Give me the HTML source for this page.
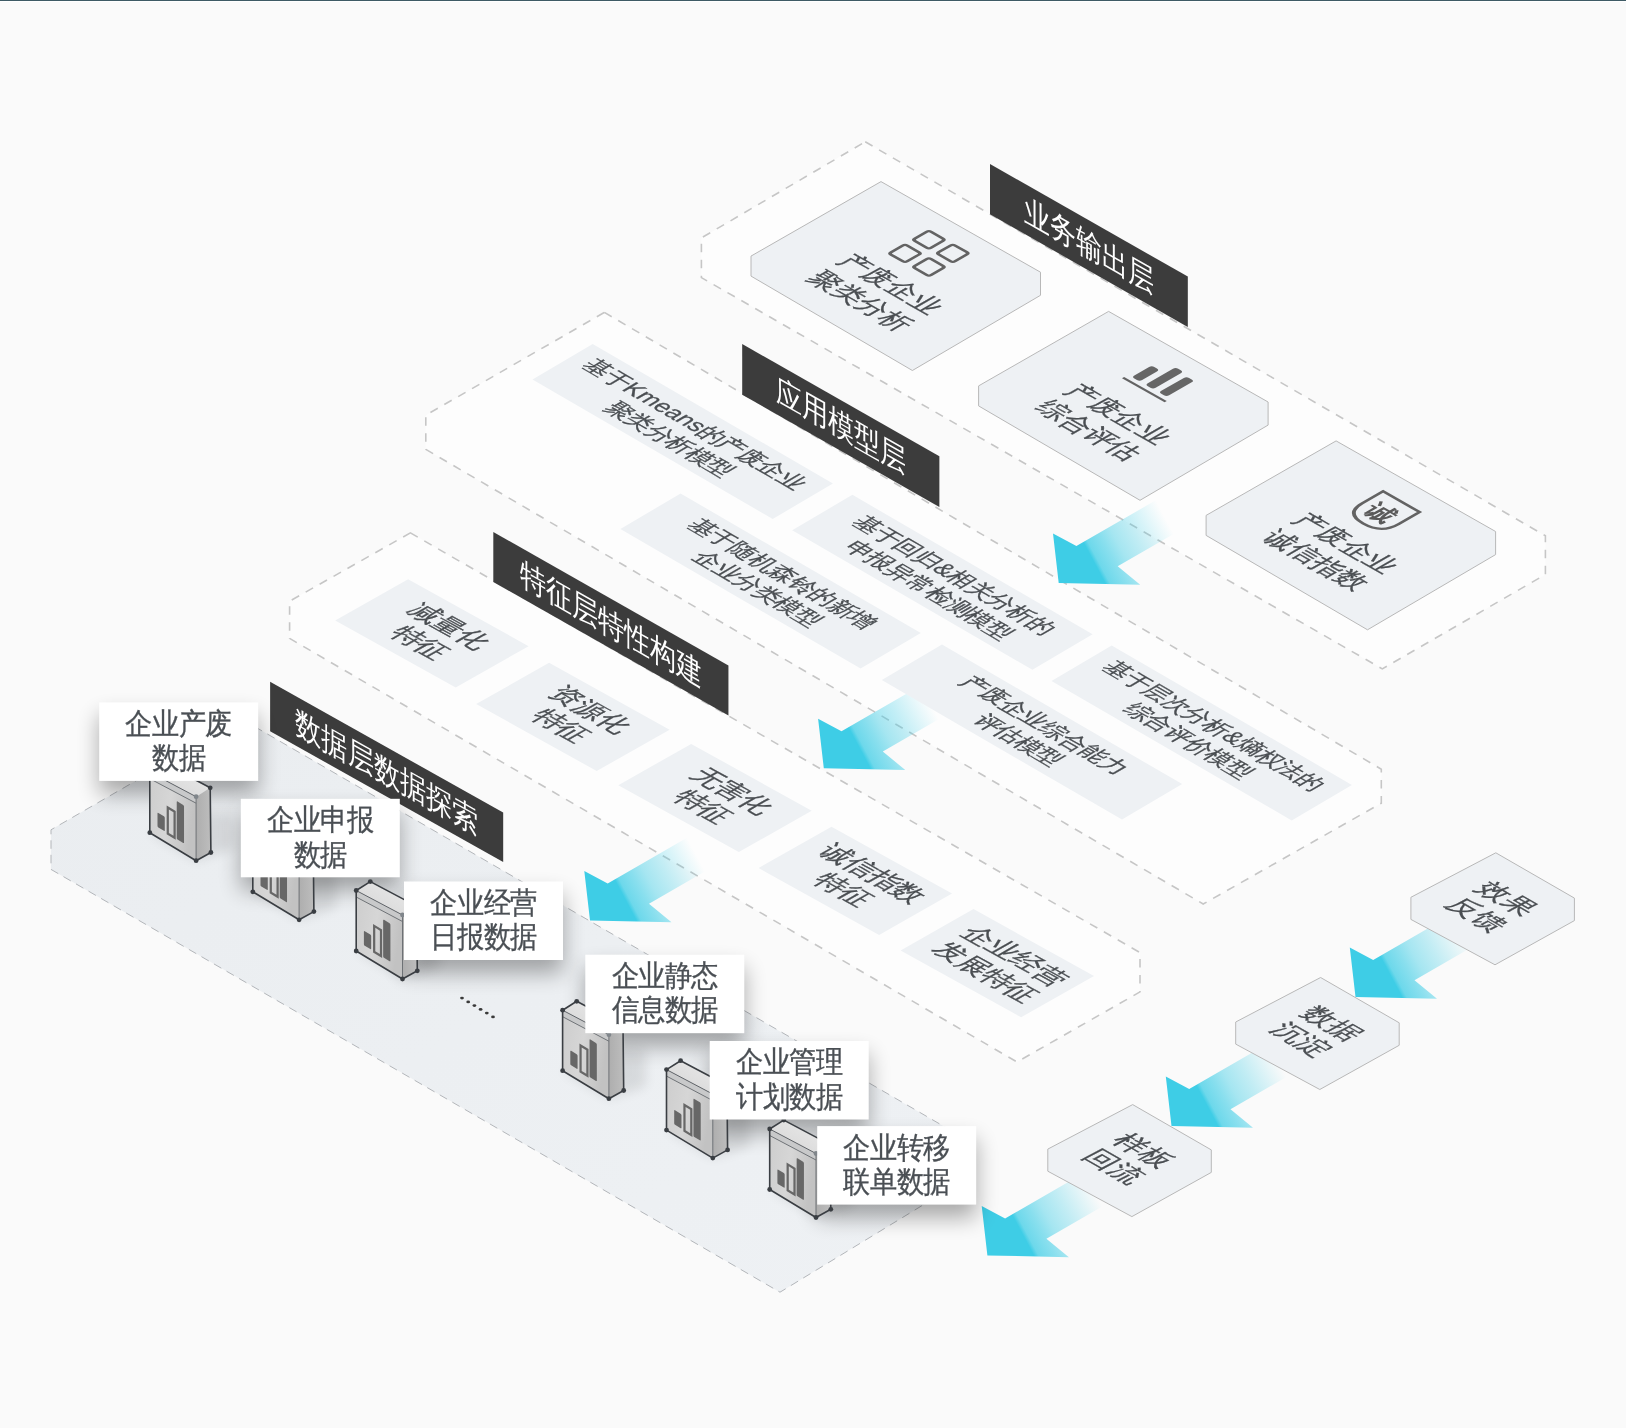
<!DOCTYPE html>
<html><head><meta charset="utf-8"><style>
html,body{margin:0;padding:0;background:#fafafa;width:1626px;height:1428px;overflow:hidden}
svg{display:block;will-change:transform;font-family:"Liberation Sans", sans-serif}
</style></head><body>
<svg width="1626" height="1428" viewBox="0 0 1626 1428">
<defs><linearGradient id="ag0" gradientUnits="userSpaceOnUse" x1="1094.8" y1="563.7" x2="1168.7" y2="524.2"><stop offset="0" stop-color="#3ecde6"/><stop offset="0.05" stop-color="#3ecde6" stop-opacity="0.75"/><stop offset="0.22" stop-color="#3ecde6" stop-opacity="0.6"/><stop offset="0.36" stop-color="#3ecde6" stop-opacity="0.45"/><stop offset="0.59" stop-color="#3ecde6" stop-opacity="0.3"/><stop offset="0.86" stop-color="#3ecde6" stop-opacity="0.1"/><stop offset="1" stop-color="#3ecde6" stop-opacity="0"/></linearGradient><linearGradient id="ag1" gradientUnits="userSpaceOnUse" x1="859.9" y1="748.9" x2="933.8" y2="709.5"><stop offset="0" stop-color="#3ecde6"/><stop offset="0.05" stop-color="#3ecde6" stop-opacity="0.75"/><stop offset="0.22" stop-color="#3ecde6" stop-opacity="0.6"/><stop offset="0.36" stop-color="#3ecde6" stop-opacity="0.45"/><stop offset="0.59" stop-color="#3ecde6" stop-opacity="0.3"/><stop offset="0.86" stop-color="#3ecde6" stop-opacity="0.1"/><stop offset="1" stop-color="#3ecde6" stop-opacity="0"/></linearGradient><linearGradient id="ag2" gradientUnits="userSpaceOnUse" x1="626.1" y1="901.2" x2="700.0" y2="861.8"><stop offset="0" stop-color="#3ecde6"/><stop offset="0.05" stop-color="#3ecde6" stop-opacity="0.75"/><stop offset="0.22" stop-color="#3ecde6" stop-opacity="0.6"/><stop offset="0.36" stop-color="#3ecde6" stop-opacity="0.45"/><stop offset="0.59" stop-color="#3ecde6" stop-opacity="0.3"/><stop offset="0.86" stop-color="#3ecde6" stop-opacity="0.1"/><stop offset="1" stop-color="#3ecde6" stop-opacity="0"/></linearGradient><linearGradient id="ag3" gradientUnits="userSpaceOnUse" x1="1391.6" y1="977.6" x2="1465.5" y2="938.1"><stop offset="0" stop-color="#3ecde6"/><stop offset="0.05" stop-color="#3ecde6" stop-opacity="0.75"/><stop offset="0.22" stop-color="#3ecde6" stop-opacity="0.6"/><stop offset="0.36" stop-color="#3ecde6" stop-opacity="0.45"/><stop offset="0.59" stop-color="#3ecde6" stop-opacity="0.3"/><stop offset="0.86" stop-color="#3ecde6" stop-opacity="0.1"/><stop offset="1" stop-color="#3ecde6" stop-opacity="0"/></linearGradient><linearGradient id="ag4" gradientUnits="userSpaceOnUse" x1="1207.6" y1="1106.6" x2="1281.5" y2="1067.2"><stop offset="0" stop-color="#3ecde6"/><stop offset="0.05" stop-color="#3ecde6" stop-opacity="0.75"/><stop offset="0.22" stop-color="#3ecde6" stop-opacity="0.6"/><stop offset="0.36" stop-color="#3ecde6" stop-opacity="0.45"/><stop offset="0.59" stop-color="#3ecde6" stop-opacity="0.3"/><stop offset="0.86" stop-color="#3ecde6" stop-opacity="0.1"/><stop offset="1" stop-color="#3ecde6" stop-opacity="0"/></linearGradient><linearGradient id="ag5" gradientUnits="userSpaceOnUse" x1="1023.5" y1="1236.1" x2="1097.4" y2="1196.7"><stop offset="0" stop-color="#3ecde6"/><stop offset="0.05" stop-color="#3ecde6" stop-opacity="0.75"/><stop offset="0.22" stop-color="#3ecde6" stop-opacity="0.6"/><stop offset="0.36" stop-color="#3ecde6" stop-opacity="0.45"/><stop offset="0.59" stop-color="#3ecde6" stop-opacity="0.3"/><stop offset="0.86" stop-color="#3ecde6" stop-opacity="0.1"/><stop offset="1" stop-color="#3ecde6" stop-opacity="0"/></linearGradient><linearGradient id="dataFill" x1="0" y1="0" x2="1" y2="1"><stop offset="0" stop-color="#eaedf0"/><stop offset="1" stop-color="#eef1f4"/></linearGradient><linearGradient id="srvFront" x1="0" y1="0" x2="1" y2="0.3"><stop offset="0" stop-color="#cdcdcd"/><stop offset="0.5" stop-color="#d6d6d6"/><stop offset="1" stop-color="#c2c2c2"/></linearGradient><linearGradient id="srvSide" x1="0" y1="0" x2="1" y2="0"><stop offset="0" stop-color="#aeaeae"/><stop offset="1" stop-color="#bdbdbd"/></linearGradient><linearGradient id="srvTop" x1="0" y1="1" x2="1" y2="0"><stop offset="0" stop-color="#d4d4d4"/><stop offset="1" stop-color="#ececec"/></linearGradient><filter id="shadow" x="-40%" y="-40%" width="180%" height="200%"><feGaussianBlur in="SourceAlpha" stdDeviation="11"/><feOffset dx="0" dy="13"/><feComponentTransfer><feFuncA type="linear" slope="0.33"/></feComponentTransfer></filter><filter id="blur6" x="-50%" y="-50%" width="200%" height="200%"><feGaussianBlur stdDeviation="6"/></filter></defs>
<rect x="0" y="0" width="1626" height="1428" fill="#fafafa"/><rect x="0" y="0" width="1626" height="1" fill="#3e5a65"/><rect x="0" y="1" width="1626" height="1" fill="#ffffff"/><polygon points="242.2,719.4 966.0,1139.2 966.0,1178.8 780.0,1292.2 51.0,869.4 51.0,829.8" fill="url(#dataFill)" stroke="#b3b6ba" stroke-width="1" stroke-dasharray="8.5 6"/><polygon points="865.2,141.8 1545.4,535.8 1545.4,574.5 1382.3,668.9 701.4,277.6 701.4,237.9" fill="#fdfdfd" stroke="#c6c6c6" stroke-width="1.6" stroke-dasharray="8.5 7.5"/><polygon points="604.4,312.4 1381.3,769.2 1381.3,803.2 1203.2,904.0 425.8,449.4 425.8,415.2" fill="#fdfdfd" stroke="#c6c6c6" stroke-width="1.6" stroke-dasharray="8.5 7.5"/><polygon points="410.4,532.9 1140.0,952.6 1140.0,991.9 1017.0,1062.0 289.6,638.4 289.6,601.2" fill="#fdfdfd" stroke="#c6c6c6" stroke-width="1.6" stroke-dasharray="8.5 7.5"/><polygon points="1058.7,583.0 1053.0,533.5 1076.4,546.1 1184.7,483.6 1226.0,503.8 1117.7,566.3 1140.2,584.8" fill="url(#ag0)"/><polygon points="823.8,768.2 818.1,718.7 841.5,731.3 949.8,668.8 991.0,689.0 882.8,751.5 905.3,770.0" fill="url(#ag1)"/><polygon points="590.0,920.5 584.3,871.0 607.7,883.6 716.0,821.1 757.2,841.3 649.0,903.8 671.5,922.3" fill="url(#ag2)"/><polygon points="1355.5,996.9 1349.8,947.4 1373.2,960.0 1481.5,897.5 1522.8,917.7 1414.5,980.2 1437.0,998.7" fill="url(#ag3)"/><polygon points="1171.5,1125.9 1165.8,1076.4 1189.2,1089.0 1297.5,1026.5 1338.8,1046.7 1230.5,1109.2 1253.0,1127.7" fill="url(#ag4)"/><polygon points="987.4,1255.4 981.7,1205.9 1005.1,1218.5 1113.3,1156.0 1154.7,1176.2 1046.4,1238.7 1068.9,1257.2" fill="url(#ag5)"/><g transform="matrix(0.86905,0.49472,0,1,990.00,164.00)"><rect x="0" y="0" width="227.6" height="50.3" fill="#3c3c3c"/><text transform="translate(113.8,36.3) scale(1,1.07)" font-size="30" fill="#ffffff" text-anchor="middle">业务输出层</text></g><g transform="matrix(0.86897,0.49486,0,1,742.20,344.00)"><rect x="0" y="0" width="226.9" height="50.7" fill="#3c3c3c"/><text transform="translate(113.5,36.5) scale(1,1.07)" font-size="30" fill="#ffffff" text-anchor="middle">应用模型层</text></g><g transform="matrix(0.86958,0.49379,0,1,493.30,532.00)"><rect x="0" y="0" width="270.4" height="50" fill="#3c3c3c"/><text transform="translate(135.2,36.2) scale(1,1.07)" font-size="30" fill="#ffffff" text-anchor="middle">特征层特性构建</text></g><g transform="matrix(0.87192,0.48964,0,1,270.10,681.70)"><rect x="0" y="0" width="267.3" height="49.5" fill="#3c3c3c"/><text transform="translate(133.7,36.0) scale(1,1.07)" font-size="30" fill="#ffffff" text-anchor="middle">数据层数据探索</text></g><polygon points="881.0,181.6 1040.5,272.2 1040.5,295.3 912.4,370.5 751.0,276.1 751.0,256.1" fill="#eef1f4" stroke="#b8b8b8" stroke-width="1"/><g transform="matrix(0.86952,0.49391,-0.86763,0.49722,881.00,181.60)"><rect x="77.0" y="22.0" width="18.5" height="18.5" rx="2.5" fill="none" stroke="#636363" stroke-width="3"/><rect x="104.5" y="22.0" width="18.5" height="18.5" rx="2.5" fill="none" stroke="#636363" stroke-width="3"/><rect x="77.0" y="49.5" width="18.5" height="18.5" rx="2.5" fill="none" stroke="#636363" stroke-width="3"/><rect x="104.5" y="49.5" width="18.5" height="18.5" rx="2.5" fill="none" stroke="#636363" stroke-width="3"/><text x="108.5" y="107.0" font-size="27" fill="#4a4e52" stroke="#4a4e52" stroke-width="0.3" text-anchor="middle">产废企业</text><text x="108.5" y="141.0" font-size="27" fill="#4a4e52" stroke="#4a4e52" stroke-width="0.3" text-anchor="middle">聚类分析</text></g><polygon points="1108.6,311.4 1268.1,402.0 1268.1,425.1 1140.0,500.3 978.6,405.9 978.6,385.9" fill="#eef1f4" stroke="#b8b8b8" stroke-width="1"/><g transform="matrix(0.86952,0.49391,-0.86763,0.49722,1108.60,311.40)"><line x1="75" y1="58.5" x2="124" y2="58.5" stroke="#636363" stroke-width="2.5"/><rect x="79.5" y="30" width="9" height="23" rx="3" fill="#666"/><rect x="95.0" y="18" width="9" height="35" rx="3" fill="#666"/><rect x="110.5" y="21" width="9" height="32" rx="3" fill="#666"/><text x="108.5" y="107.0" font-size="27" fill="#4a4e52" stroke="#4a4e52" stroke-width="0.3" text-anchor="middle">产废企业</text><text x="108.5" y="141.0" font-size="27" fill="#4a4e52" stroke="#4a4e52" stroke-width="0.3" text-anchor="middle">综合评估</text></g><polygon points="1336.1,440.9 1495.6,531.5 1495.6,554.6 1367.5,629.8 1206.1,535.4 1206.1,515.4" fill="#eef1f4" stroke="#b8b8b8" stroke-width="1"/><g transform="matrix(0.86952,0.49391,-0.86763,0.49722,1336.10,440.90)"><path d="M78,24 H120 V48 Q120,68 99,68 Q78,68 78,48 Z" fill="none" stroke="#636363" stroke-width="3"/><text x="99" y="56" font-size="26" font-weight="bold" fill="#5a5a5a" text-anchor="middle">诚</text><text x="108.5" y="107.0" font-size="27" fill="#4a4e52" stroke="#4a4e52" stroke-width="0.3" text-anchor="middle">产废企业</text><text x="108.5" y="141.0" font-size="27" fill="#4a4e52" stroke="#4a4e52" stroke-width="0.3" text-anchor="middle">诚信指数</text></g><polygon points="1495.8,852.8 1574.4,898.1 1574.4,920.6 1495.0,964.8 1410.9,919.4 1410.9,897.3" fill="#eef1f4" stroke="#b8b8b8" stroke-width="1"/><g transform="matrix(0.86641,0.49934,-0.88571,0.46424,1495.80,852.80)"><text x="54.4" y="49.9" font-size="28" fill="#4a4e52" stroke="#4a4e52" stroke-width="0.3" text-anchor="middle">效果</text><text x="54.4" y="83.9" font-size="28" fill="#4a4e52" stroke="#4a4e52" stroke-width="0.3" text-anchor="middle">反馈</text></g><polygon points="1320.6,977.5 1399.2,1022.8 1399.2,1045.3 1319.8,1089.5 1235.7,1044.1 1235.7,1022.0" fill="#eef1f4" stroke="#b8b8b8" stroke-width="1"/><g transform="matrix(0.86641,0.49934,-0.88571,0.46424,1320.60,977.50)"><text x="54.4" y="49.9" font-size="28" fill="#4a4e52" stroke="#4a4e52" stroke-width="0.3" text-anchor="middle">数据</text><text x="54.4" y="83.9" font-size="28" fill="#4a4e52" stroke="#4a4e52" stroke-width="0.3" text-anchor="middle">沉淀</text></g><polygon points="1132.7,1104.6 1211.3,1149.9 1211.3,1172.4 1131.9,1216.6 1047.8,1171.2 1047.8,1149.1" fill="#eef1f4" stroke="#b8b8b8" stroke-width="1"/><g transform="matrix(0.86641,0.49934,-0.88571,0.46424,1132.70,1104.60)"><text x="54.4" y="49.9" font-size="28" fill="#4a4e52" stroke="#4a4e52" stroke-width="0.3" text-anchor="middle">样板</text><text x="54.4" y="83.9" font-size="28" fill="#4a4e52" stroke="#4a4e52" stroke-width="0.3" text-anchor="middle">回流</text></g><polygon points="592.7,344.0 832.9,483.5 772.7,519.0 532.5,379.5" fill="#eef1f4"/><g transform="matrix(0.86474,0.50221,-0.86138,0.50796,592.70,344.00)"><text x="138.9" y="28.9" font-size="23.5" fill="#4a4e52" stroke="#4a4e52" stroke-width="0.3" text-anchor="middle">基于Kmeans的产废企业</text><text x="138.9" y="57.9" font-size="23.5" fill="#4a4e52" stroke="#4a4e52" stroke-width="0.3" text-anchor="middle">聚类分析模型</text></g><polygon points="680.6,493.5 920.8,633.0 860.6,668.5 620.4,529.0" fill="#eef1f4"/><g transform="matrix(0.86474,0.50221,-0.86138,0.50796,680.60,493.50)"><text x="138.9" y="28.9" font-size="23.5" fill="#4a4e52" stroke="#4a4e52" stroke-width="0.3" text-anchor="middle">基于随机森铃的新增</text><text x="138.9" y="57.9" font-size="23.5" fill="#4a4e52" stroke="#4a4e52" stroke-width="0.3" text-anchor="middle">企业分类模型</text></g><polygon points="852.4,494.8 1092.6,634.3 1032.4,669.8 792.2,530.3" fill="#eef1f4"/><g transform="matrix(0.86474,0.50221,-0.86138,0.50796,852.40,494.80)"><text x="138.9" y="28.9" font-size="23.5" fill="#4a4e52" stroke="#4a4e52" stroke-width="0.3" text-anchor="middle">基于回归&amp;相关分析的</text><text x="138.9" y="57.9" font-size="23.5" fill="#4a4e52" stroke="#4a4e52" stroke-width="0.3" text-anchor="middle">申报异常检测模型</text></g><polygon points="942.0,644.6 1182.2,784.1 1122.0,819.6 881.8,680.1" fill="#eef1f4"/><g transform="matrix(0.86474,0.50221,-0.86138,0.50796,942.00,644.60)"><text x="138.9" y="28.9" font-size="23.5" fill="#4a4e52" stroke="#4a4e52" stroke-width="0.3" text-anchor="middle">产废企业综合能力</text><text x="138.9" y="57.9" font-size="23.5" fill="#4a4e52" stroke="#4a4e52" stroke-width="0.3" text-anchor="middle">评估模型</text></g><polygon points="1111.7,645.4 1351.9,784.9 1291.7,820.4 1051.5,680.9" fill="#eef1f4"/><g transform="matrix(0.86474,0.50221,-0.86138,0.50796,1111.70,645.40)"><text x="138.9" y="28.9" font-size="23.5" fill="#4a4e52" stroke="#4a4e52" stroke-width="0.3" text-anchor="middle">基于层次分析&amp;熵权法的</text><text x="138.9" y="57.9" font-size="23.5" fill="#4a4e52" stroke="#4a4e52" stroke-width="0.3" text-anchor="middle">综合评价模型</text></g><polygon points="408.1,579.3 528.6,646.2 455.7,687.5 335.2,620.6" fill="#eef1f4"/><g transform="matrix(0.87429,0.48540,-0.87007,0.49292,408.10,579.30)"><text x="71.4" y="33.8" font-size="27.5" fill="#4a4e52" stroke="#4a4e52" stroke-width="0.3" text-anchor="middle">减量化</text><text x="71.4" y="66.8" font-size="27.5" fill="#4a4e52" stroke="#4a4e52" stroke-width="0.3" text-anchor="middle">特征</text></g><polygon points="549.1,662.8 669.6,729.7 596.7,771.0 476.2,704.1" fill="#eef1f4"/><g transform="matrix(0.87429,0.48540,-0.87007,0.49292,549.10,662.80)"><text x="71.4" y="33.8" font-size="27.5" fill="#4a4e52" stroke="#4a4e52" stroke-width="0.3" text-anchor="middle">资源化</text><text x="71.4" y="66.8" font-size="27.5" fill="#4a4e52" stroke="#4a4e52" stroke-width="0.3" text-anchor="middle">特征</text></g><polygon points="691.2,743.9 811.7,810.8 738.8,852.1 618.3,785.2" fill="#eef1f4"/><g transform="matrix(0.87429,0.48540,-0.87007,0.49292,691.20,743.90)"><text x="71.4" y="33.8" font-size="27.5" fill="#4a4e52" stroke="#4a4e52" stroke-width="0.3" text-anchor="middle">无害化</text><text x="71.4" y="66.8" font-size="27.5" fill="#4a4e52" stroke="#4a4e52" stroke-width="0.3" text-anchor="middle">特征</text></g><polygon points="831.5,826.7 952.0,893.6 879.1,934.9 758.6,868.0" fill="#eef1f4"/><g transform="matrix(0.87429,0.48540,-0.87007,0.49292,831.50,826.70)"><text x="71.4" y="33.8" font-size="27.5" fill="#4a4e52" stroke="#4a4e52" stroke-width="0.3" text-anchor="middle">诚信指数</text><text x="71.4" y="66.8" font-size="27.5" fill="#4a4e52" stroke="#4a4e52" stroke-width="0.3" text-anchor="middle">特征</text></g><polygon points="973.5,909.1 1094.0,976.0 1021.1,1017.3 900.6,950.4" fill="#eef1f4"/><g transform="matrix(0.87429,0.48540,-0.87007,0.49292,973.50,909.10)"><text x="71.4" y="33.8" font-size="27.5" fill="#4a4e52" stroke="#4a4e52" stroke-width="0.3" text-anchor="middle">企业经营</text><text x="71.4" y="66.8" font-size="27.5" fill="#4a4e52" stroke="#4a4e52" stroke-width="0.3" text-anchor="middle">发展特征</text></g><rect x="99.2" y="702.4" width="159" height="78.5" fill="#000" filter="url(#shadow)"/><rect x="240.8" y="798.8" width="159" height="78.5" fill="#000" filter="url(#shadow)"/><rect x="404.0" y="881.5" width="159" height="78.5" fill="#000" filter="url(#shadow)"/><rect x="585.3" y="954.7" width="159" height="78.5" fill="#000" filter="url(#shadow)"/><rect x="709.7" y="1041.0" width="159" height="78.5" fill="#000" filter="url(#shadow)"/><rect x="817.2" y="1126.1" width="159" height="78.5" fill="#000" filter="url(#shadow)"/><polygon points="149.8,832.7 196.1,860.7 232.9,848.5 232.9,812.5 206.1,810.7" fill="#000" opacity="0.09" filter="url(#blur6)"/><polygon points="149.8,832.7 196.1,860.7 196.1,796.7 149.8,772.2" fill="url(#srvFront)"/><polygon points="196.1,860.7 210.9,852.5 210.2,787.8 196.1,796.7" fill="url(#srvSide)"/><polygon points="149.8,772.2 196.1,796.7 210.2,787.8 163.9,763.3" fill="url(#srvTop)"/><polygon points="149.8,772.2 196.1,796.7 196.1,803.2 149.8,778.7" fill="#c8c9ca"/><line x1="149.8" y1="772.2" x2="196.1" y2="796.7" stroke="#5f6368" stroke-width="1"/><line x1="149.8" y1="778.7" x2="196.1" y2="803.2" stroke="#6f7377" stroke-width="1"/><line x1="196.1" y1="796.7" x2="196.1" y2="860.7" stroke="#6d7175" stroke-width="1"/><g transform="matrix(0.8557,0.5175,0,1,149.80,832.70)"><rect x="9" y="-25" width="8.5" height="14.5" rx="1" fill="#676767"/><rect x="21" y="-36" width="8" height="26" fill="none" stroke="#676767" stroke-width="2.6"/><rect x="31.5" y="-48" width="8.5" height="38" rx="1" fill="#676767"/></g><polygon points="149.8,832.7 196.1,860.7 210.9,852.5 210.2,787.8 163.9,763.3 149.8,772.2" fill="none" stroke="#3a3e43" stroke-width="1.6" stroke-linejoin="round"/><circle cx="149.8" cy="832.7" r="2.4" fill="#3a3e43"/><circle cx="196.1" cy="860.7" r="2.4" fill="#3a3e43"/><circle cx="210.9" cy="852.5" r="2.4" fill="#3a3e43"/><circle cx="210.2" cy="787.8" r="2.4" fill="#3a3e43"/><circle cx="149.8" cy="772.2" r="2.4" fill="#3a3e43"/><circle cx="163.9" cy="763.3" r="2.4" fill="#3a3e43"/><circle cx="196.1" cy="796.7" r="2.4" fill="#80868b"/><polygon points="252.8,891.8 299.1,919.8 335.9,907.6 335.9,871.6 309.1,869.8" fill="#000" opacity="0.09" filter="url(#blur6)"/><polygon points="252.8,891.8 299.1,919.8 299.1,855.8 252.8,831.3" fill="url(#srvFront)"/><polygon points="299.1,919.8 313.9,911.6 313.2,846.9 299.1,855.8" fill="url(#srvSide)"/><polygon points="252.8,831.3 299.1,855.8 313.2,846.9 266.9,822.4" fill="url(#srvTop)"/><polygon points="252.8,831.3 299.1,855.8 299.1,862.3 252.8,837.8" fill="#c8c9ca"/><line x1="252.8" y1="831.3" x2="299.1" y2="855.8" stroke="#5f6368" stroke-width="1"/><line x1="252.8" y1="837.8" x2="299.1" y2="862.3" stroke="#6f7377" stroke-width="1"/><line x1="299.1" y1="855.8" x2="299.1" y2="919.8" stroke="#6d7175" stroke-width="1"/><g transform="matrix(0.8557,0.5175,0,1,252.80,891.80)"><rect x="9" y="-25" width="8.5" height="14.5" rx="1" fill="#676767"/><rect x="21" y="-36" width="8" height="26" fill="none" stroke="#676767" stroke-width="2.6"/><rect x="31.5" y="-48" width="8.5" height="38" rx="1" fill="#676767"/></g><polygon points="252.8,891.8 299.1,919.8 313.9,911.6 313.2,846.9 266.9,822.4 252.8,831.3" fill="none" stroke="#3a3e43" stroke-width="1.6" stroke-linejoin="round"/><circle cx="252.8" cy="891.8" r="2.4" fill="#3a3e43"/><circle cx="299.1" cy="919.8" r="2.4" fill="#3a3e43"/><circle cx="313.9" cy="911.6" r="2.4" fill="#3a3e43"/><circle cx="313.2" cy="846.9" r="2.4" fill="#3a3e43"/><circle cx="252.8" cy="831.3" r="2.4" fill="#3a3e43"/><circle cx="266.9" cy="822.4" r="2.4" fill="#3a3e43"/><circle cx="299.1" cy="855.8" r="2.4" fill="#80868b"/><polygon points="356.2,951.0 402.5,979.0 439.3,966.8 439.3,930.8 412.5,929.0" fill="#000" opacity="0.09" filter="url(#blur6)"/><polygon points="356.2,951.0 402.5,979.0 402.5,915.0 356.2,890.5" fill="url(#srvFront)"/><polygon points="402.5,979.0 417.3,970.8 416.6,906.1 402.5,915.0" fill="url(#srvSide)"/><polygon points="356.2,890.5 402.5,915.0 416.6,906.1 370.3,881.6" fill="url(#srvTop)"/><polygon points="356.2,890.5 402.5,915.0 402.5,921.5 356.2,897.0" fill="#c8c9ca"/><line x1="356.2" y1="890.5" x2="402.5" y2="915.0" stroke="#5f6368" stroke-width="1"/><line x1="356.2" y1="897.0" x2="402.5" y2="921.5" stroke="#6f7377" stroke-width="1"/><line x1="402.5" y1="915.0" x2="402.5" y2="979.0" stroke="#6d7175" stroke-width="1"/><g transform="matrix(0.8557,0.5175,0,1,356.20,951.00)"><rect x="9" y="-25" width="8.5" height="14.5" rx="1" fill="#676767"/><rect x="21" y="-36" width="8" height="26" fill="none" stroke="#676767" stroke-width="2.6"/><rect x="31.5" y="-48" width="8.5" height="38" rx="1" fill="#676767"/></g><polygon points="356.2,951.0 402.5,979.0 417.3,970.8 416.6,906.1 370.3,881.6 356.2,890.5" fill="none" stroke="#3a3e43" stroke-width="1.6" stroke-linejoin="round"/><circle cx="356.2" cy="951.0" r="2.4" fill="#3a3e43"/><circle cx="402.5" cy="979.0" r="2.4" fill="#3a3e43"/><circle cx="417.3" cy="970.8" r="2.4" fill="#3a3e43"/><circle cx="416.6" cy="906.1" r="2.4" fill="#3a3e43"/><circle cx="356.2" cy="890.5" r="2.4" fill="#3a3e43"/><circle cx="370.3" cy="881.6" r="2.4" fill="#3a3e43"/><circle cx="402.5" cy="915.0" r="2.4" fill="#80868b"/><polygon points="562.6,1070.7 608.9,1098.7 645.7,1086.5 645.7,1050.5 618.9,1048.7" fill="#000" opacity="0.09" filter="url(#blur6)"/><polygon points="562.6,1070.7 608.9,1098.7 608.9,1034.7 562.6,1010.2" fill="url(#srvFront)"/><polygon points="608.9,1098.7 623.7,1090.5 623.0,1025.8 608.9,1034.7" fill="url(#srvSide)"/><polygon points="562.6,1010.2 608.9,1034.7 623.0,1025.8 576.7,1001.3" fill="url(#srvTop)"/><polygon points="562.6,1010.2 608.9,1034.7 608.9,1041.2 562.6,1016.7" fill="#c8c9ca"/><line x1="562.6" y1="1010.2" x2="608.9" y2="1034.7" stroke="#5f6368" stroke-width="1"/><line x1="562.6" y1="1016.7" x2="608.9" y2="1041.2" stroke="#6f7377" stroke-width="1"/><line x1="608.9" y1="1034.7" x2="608.9" y2="1098.7" stroke="#6d7175" stroke-width="1"/><g transform="matrix(0.8557,0.5175,0,1,562.60,1070.70)"><rect x="9" y="-25" width="8.5" height="14.5" rx="1" fill="#676767"/><rect x="21" y="-36" width="8" height="26" fill="none" stroke="#676767" stroke-width="2.6"/><rect x="31.5" y="-48" width="8.5" height="38" rx="1" fill="#676767"/></g><polygon points="562.6,1070.7 608.9,1098.7 623.7,1090.5 623.0,1025.8 576.7,1001.3 562.6,1010.2" fill="none" stroke="#3a3e43" stroke-width="1.6" stroke-linejoin="round"/><circle cx="562.6" cy="1070.7" r="2.4" fill="#3a3e43"/><circle cx="608.9" cy="1098.7" r="2.4" fill="#3a3e43"/><circle cx="623.7" cy="1090.5" r="2.4" fill="#3a3e43"/><circle cx="623.0" cy="1025.8" r="2.4" fill="#3a3e43"/><circle cx="562.6" cy="1010.2" r="2.4" fill="#3a3e43"/><circle cx="576.7" cy="1001.3" r="2.4" fill="#3a3e43"/><circle cx="608.9" cy="1034.7" r="2.4" fill="#80868b"/><polygon points="666.5,1130.1 712.8,1158.1 749.6,1145.9 749.6,1109.9 722.8,1108.1" fill="#000" opacity="0.09" filter="url(#blur6)"/><polygon points="666.5,1130.1 712.8,1158.1 712.8,1094.1 666.5,1069.6" fill="url(#srvFront)"/><polygon points="712.8,1158.1 727.6,1149.9 726.9,1085.2 712.8,1094.1" fill="url(#srvSide)"/><polygon points="666.5,1069.6 712.8,1094.1 726.9,1085.2 680.6,1060.7" fill="url(#srvTop)"/><polygon points="666.5,1069.6 712.8,1094.1 712.8,1100.6 666.5,1076.1" fill="#c8c9ca"/><line x1="666.5" y1="1069.6" x2="712.8" y2="1094.1" stroke="#5f6368" stroke-width="1"/><line x1="666.5" y1="1076.1" x2="712.8" y2="1100.6" stroke="#6f7377" stroke-width="1"/><line x1="712.8" y1="1094.1" x2="712.8" y2="1158.1" stroke="#6d7175" stroke-width="1"/><g transform="matrix(0.8557,0.5175,0,1,666.50,1130.10)"><rect x="9" y="-25" width="8.5" height="14.5" rx="1" fill="#676767"/><rect x="21" y="-36" width="8" height="26" fill="none" stroke="#676767" stroke-width="2.6"/><rect x="31.5" y="-48" width="8.5" height="38" rx="1" fill="#676767"/></g><polygon points="666.5,1130.1 712.8,1158.1 727.6,1149.9 726.9,1085.2 680.6,1060.7 666.5,1069.6" fill="none" stroke="#3a3e43" stroke-width="1.6" stroke-linejoin="round"/><circle cx="666.5" cy="1130.1" r="2.4" fill="#3a3e43"/><circle cx="712.8" cy="1158.1" r="2.4" fill="#3a3e43"/><circle cx="727.6" cy="1149.9" r="2.4" fill="#3a3e43"/><circle cx="726.9" cy="1085.2" r="2.4" fill="#3a3e43"/><circle cx="666.5" cy="1069.6" r="2.4" fill="#3a3e43"/><circle cx="680.6" cy="1060.7" r="2.4" fill="#3a3e43"/><circle cx="712.8" cy="1094.1" r="2.4" fill="#80868b"/><polygon points="769.7,1189.5 816.0,1217.5 852.8,1205.3 852.8,1169.3 826.0,1167.5" fill="#000" opacity="0.09" filter="url(#blur6)"/><polygon points="769.7,1189.5 816.0,1217.5 816.0,1153.5 769.7,1129.0" fill="url(#srvFront)"/><polygon points="816.0,1217.5 830.8,1209.3 830.1,1144.6 816.0,1153.5" fill="url(#srvSide)"/><polygon points="769.7,1129.0 816.0,1153.5 830.1,1144.6 783.8,1120.1" fill="url(#srvTop)"/><polygon points="769.7,1129.0 816.0,1153.5 816.0,1160.0 769.7,1135.5" fill="#c8c9ca"/><line x1="769.7" y1="1129.0" x2="816.0" y2="1153.5" stroke="#5f6368" stroke-width="1"/><line x1="769.7" y1="1135.5" x2="816.0" y2="1160.0" stroke="#6f7377" stroke-width="1"/><line x1="816.0" y1="1153.5" x2="816.0" y2="1217.5" stroke="#6d7175" stroke-width="1"/><g transform="matrix(0.8557,0.5175,0,1,769.70,1189.50)"><rect x="9" y="-25" width="8.5" height="14.5" rx="1" fill="#676767"/><rect x="21" y="-36" width="8" height="26" fill="none" stroke="#676767" stroke-width="2.6"/><rect x="31.5" y="-48" width="8.5" height="38" rx="1" fill="#676767"/></g><polygon points="769.7,1189.5 816.0,1217.5 830.8,1209.3 830.1,1144.6 783.8,1120.1 769.7,1129.0" fill="none" stroke="#3a3e43" stroke-width="1.6" stroke-linejoin="round"/><circle cx="769.7" cy="1189.5" r="2.4" fill="#3a3e43"/><circle cx="816.0" cy="1217.5" r="2.4" fill="#3a3e43"/><circle cx="830.8" cy="1209.3" r="2.4" fill="#3a3e43"/><circle cx="830.1" cy="1144.6" r="2.4" fill="#3a3e43"/><circle cx="769.7" cy="1129.0" r="2.4" fill="#3a3e43"/><circle cx="783.8" cy="1120.1" r="2.4" fill="#3a3e43"/><circle cx="816.0" cy="1153.5" r="2.4" fill="#80868b"/><ellipse cx="462.0" cy="998.1" rx="1.9" ry="1.3" fill="#3a3a3a"/><ellipse cx="468.2" cy="1001.9" rx="1.9" ry="1.3" fill="#3a3a3a"/><ellipse cx="474.4" cy="1005.6" rx="1.9" ry="1.3" fill="#3a3a3a"/><ellipse cx="480.6" cy="1009.4" rx="1.9" ry="1.3" fill="#3a3a3a"/><ellipse cx="486.8" cy="1013.1" rx="1.9" ry="1.3" fill="#3a3a3a"/><ellipse cx="493.0" cy="1016.9" rx="1.9" ry="1.3" fill="#3a3a3a"/><rect x="99.2" y="702.4" width="159" height="78.5" fill="#ffffff"/><text transform="translate(178.7,733.8) scale(1,1.1)" font-size="27" fill="#4a4f54" stroke="#4a4f54" stroke-width="0.3" text-anchor="middle">企业产废</text><text transform="translate(178.7,768.1) scale(1,1.1)" font-size="27" fill="#4a4f54" stroke="#4a4f54" stroke-width="0.3" text-anchor="middle">数据</text><rect x="240.8" y="798.8" width="159" height="78.5" fill="#ffffff"/><text transform="translate(320.3,830.2) scale(1,1.1)" font-size="27" fill="#4a4f54" stroke="#4a4f54" stroke-width="0.3" text-anchor="middle">企业申报</text><text transform="translate(320.3,864.5) scale(1,1.1)" font-size="27" fill="#4a4f54" stroke="#4a4f54" stroke-width="0.3" text-anchor="middle">数据</text><rect x="404.0" y="881.5" width="159" height="78.5" fill="#ffffff"/><text transform="translate(483.5,912.9) scale(1,1.1)" font-size="27" fill="#4a4f54" stroke="#4a4f54" stroke-width="0.3" text-anchor="middle">企业经营</text><text transform="translate(483.5,947.2) scale(1,1.1)" font-size="27" fill="#4a4f54" stroke="#4a4f54" stroke-width="0.3" text-anchor="middle">日报数据</text><rect x="585.3" y="954.7" width="159" height="78.5" fill="#ffffff"/><text transform="translate(664.8,986.1) scale(1,1.1)" font-size="27" fill="#4a4f54" stroke="#4a4f54" stroke-width="0.3" text-anchor="middle">企业静态</text><text transform="translate(664.8,1020.4) scale(1,1.1)" font-size="27" fill="#4a4f54" stroke="#4a4f54" stroke-width="0.3" text-anchor="middle">信息数据</text><rect x="709.7" y="1041.0" width="159" height="78.5" fill="#ffffff"/><text transform="translate(789.2,1072.4) scale(1,1.1)" font-size="27" fill="#4a4f54" stroke="#4a4f54" stroke-width="0.3" text-anchor="middle">企业管理</text><text transform="translate(789.2,1106.7) scale(1,1.1)" font-size="27" fill="#4a4f54" stroke="#4a4f54" stroke-width="0.3" text-anchor="middle">计划数据</text><rect x="817.2" y="1126.1" width="159" height="78.5" fill="#ffffff"/><text transform="translate(896.7,1157.5) scale(1,1.1)" font-size="27" fill="#4a4f54" stroke="#4a4f54" stroke-width="0.3" text-anchor="middle">企业转移</text><text transform="translate(896.7,1191.8) scale(1,1.1)" font-size="27" fill="#4a4f54" stroke="#4a4f54" stroke-width="0.3" text-anchor="middle">联单数据</text>
</svg></body></html>
